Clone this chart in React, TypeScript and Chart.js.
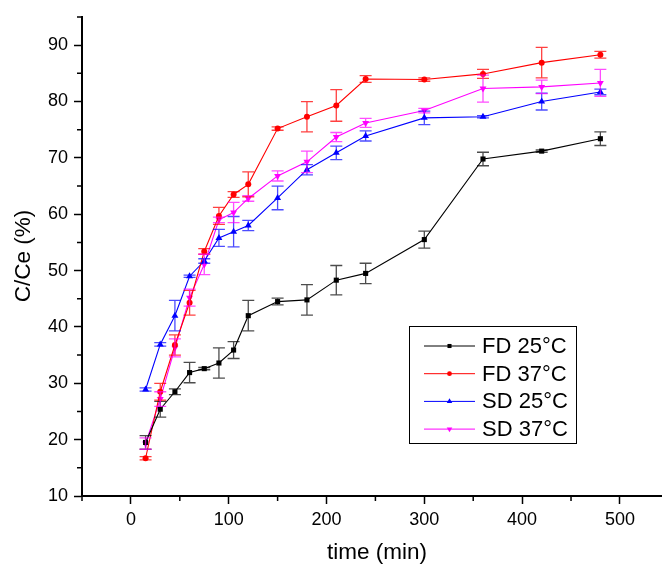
import React, { useEffect, useRef } from 'react';
import { Chart, registerables } from 'chart.js';
Chart.register(...registerables);

const times = [15, 30, 45, 60, 75, 90, 105, 120, 150, 180, 210, 240, 300, 360, 420, 480];
const fd25 = [19.5, 25.4, 28.5, 31.9, 32.6, 33.6, 35.9, 42.0, 44.5, 44.8, 48.3, 49.5, 55.5, 69.8, 71.2, 73.4];
const fd25Err = [1.2, 1.4, 0.5, 1.8, 0.2, 2.7, 1.5, 2.7, 0.6, 2.7, 2.6, 1.8, 1.5, 1.2, 0.2, 1.2];
const fd37 = [16.7, 28.5, 36.8, 44.3, 53.4, 59.7, 63.5, 65.3, 75.2, 77.3, 79.3, 84.0, 83.9, 84.9, 86.9, 88.3];
const fd37Err = [0.3, 1.5, 1.8, 2.2, 0.5, 1.5, 0.5, 2.2, 0.3, 2.7, 2.8, 0.6, 0.3, 0.8, 2.7, 0.6];
const sd25 = [28.9, 36.9, 42.0, 49.0, 51.7, 55.8, 56.9, 58.0, 62.9, 67.9, 70.9, 73.9, 77.1, 77.3, 80.0, 81.7];
const sd25Err = [0.3, 0.3, 2.7, 0.2, 0.4, 1.5, 2.7, 0.9, 2.1, 0.9, 1.2, 0.9, 1.2, 0.2, 1.5, 0.5];
const sd37 = [19.3, 27.2, 36.3, 45.2, 51.1, 59.0, 60.3, 62.8, 66.8, 69.3, 73.7, 76.2, 78.4, 82.3, 82.6, 83.3];
const sd37Err = [1.0, 1.3, 1.6, 1.5, 1.8, 0.5, 1.8, 0.5, 0.9, 1.9, 0.8, 0.8, 0.4, 2.4, 1.2, 2.4];

const seriesLabels = ['FD 25°C', 'FD 37°C', 'SD 25°C', 'SD 37°C'];
const xMajorTicks = [0, 100, 200, 300, 400, 500];
const xMinorTicks = [-50, 50, 150, 250, 350, 450];
const yMajorTicks = [10, 20, 30, 40, 50, 60, 70, 80, 90];
const yMinorTicks = [15, 25, 35, 45, 55, 65, 75, 85, 95];
const xTitle = 'time (min)';
const yTitle = 'C/Ce (%)';

const FONT = '"Liberation Sans", Arial, sans-serif';

const errorBars = {
  id: 'errorBars',
  afterDatasetsDraw(chart: any) {
    const ctx = chart.ctx;
    const xs = chart.scales.x;
    const ys = chart.scales.y;
    chart.data.datasets.forEach((ds: any) => {
      ctx.save();
      ctx.strokeStyle = ds.errorColor;
      ctx.lineWidth = 1.3;
      ds.data.forEach((pt: any, j: number) => {
        const e = ds.errors[j];
        if (!e) return;
        const x = xs.getPixelForValue(pt.x);
        const yt = ys.getPixelForValue(pt.y + e);
        const yb = ys.getPixelForValue(pt.y - e);
        const hw = 6;
        ctx.beginPath();
        ctx.moveTo(x, yt);
        ctx.lineTo(x, yb);
        ctx.moveTo(x - hw, yt);
        ctx.lineTo(x + hw, yt);
        ctx.moveTo(x - hw, yb);
        ctx.lineTo(x + hw, yb);
        ctx.stroke();
      });
      ctx.restore();
    });
  },
};

function drawMarker(ctx: CanvasRenderingContext2D, style: string, rot: number, x: number, y: number, r: number, color: string) {
  ctx.save();
  ctx.fillStyle = color;
  ctx.beginPath();
  if (style === 'rect') {
    const s = Math.SQRT1_2 * r;
    ctx.rect(x - s, y - s, 2 * s, 2 * s);
  } else if (style === 'circle') {
    ctx.arc(x, y, r, 0, Math.PI * 2);
  } else {
    const dir = rot === 180 ? -1 : 1;
    ctx.moveTo(x, y - dir * r);
    ctx.lineTo(x - r * 0.866, y + dir * r * 0.5);
    ctx.lineTo(x + r * 0.866, y + dir * r * 0.5);
    ctx.closePath();
  }
  ctx.fill();
  ctx.restore();
}

const decorations = {
  id: 'decorations',
  afterDraw(chart: any) {
    const ctx = chart.ctx;
    const xs = chart.scales.x;
    const ys = chart.scales.y;
    const area = chart.chartArea;
    ctx.save();
    // minor ticks
    ctx.strokeStyle = '#000';
    ctx.lineWidth = 1.5;
    ctx.beginPath();
    xMinorTicks.forEach((v) => {
      const x = xs.getPixelForValue(v);
      ctx.moveTo(x, area.bottom);
      ctx.lineTo(x, area.bottom + 5);
    });
    yMinorTicks.forEach((v) => {
      const y = ys.getPixelForValue(v);
      ctx.moveTo(area.left, y);
      ctx.lineTo(area.left - 5, y);
    });
    ctx.stroke();

    // axis titles
    ctx.fillStyle = '#000';
    ctx.font = `22.5px ${FONT}`;
    ctx.textAlign = 'center';
    ctx.textBaseline = 'middle';
    ctx.fillText(xTitle, 377, 553);
    ctx.save();
    ctx.translate(24, 256);
    ctx.rotate(-Math.PI / 2);
    ctx.fillText(yTitle, 0, 0);
    ctx.restore();

    // legend
    const bx = 409, by = 326, bw = 167, bh = 117;
    ctx.strokeStyle = '#000';
    ctx.lineWidth = 1;
    ctx.strokeRect(bx + 0.5, by + 0.5, bw, bh);
    ctx.font = `22px ${FONT}`;
    ctx.textAlign = 'left';
    ctx.textBaseline = 'middle';
    chart.data.datasets.forEach((ds: any, i: number) => {
      const y = 346 + i * 27.7;
      ctx.strokeStyle = ds.borderColor;
      ctx.lineWidth = 1;
      ctx.beginPath();
      ctx.moveTo(424, y);
      ctx.lineTo(475, y);
      ctx.stroke();
      drawMarker(ctx, ds.pointStyle, ds.pointRotation || 0, 449.5, y, ds.pointRadius * 0.8, ds.borderColor);
      ctx.fillStyle = '#000';
      ctx.fillText(ds.label, 482, y + 1);
    });
    ctx.restore();
  },
};

function pts(ys: number[]) {
  return times.map((t, i) => ({ x: t, y: ys[i] }));
}

export default function App() {
  const ref = useRef<HTMLCanvasElement>(null);
  useEffect(() => {
    if (!ref.current) return;
    const mk = (label: string, data: number[], errs: number[], color: string, errColor: string, style: string, radius: number, rot = 0) => ({
      label,
      data: pts(data),
      errors: errs,
      errorColor: errColor,
      borderColor: color,
      backgroundColor: color,
      pointBackgroundColor: color,
      pointBorderColor: color,
      pointBorderWidth: 0,
      pointStyle: style,
      pointRadius: radius,
      pointRotation: rot,
      borderWidth: 1.1,
      tension: 0,
    });
    const chart = new Chart(ref.current, {
      type: 'line',
      data: {
        datasets: [
          mk(seriesLabels[0], fd25, fd25Err, '#000000', 'rgba(0,0,0,0.7)', 'rect', 3.6),
          mk(seriesLabels[1], fd37, fd37Err, '#ff0000', 'rgba(255,0,0,0.75)', 'circle', 3),
          mk(seriesLabels[2], sd25, sd25Err, '#0000ff', 'rgba(0,0,255,0.7)', 'triangle', 4),
          mk(seriesLabels[3], sd37, sd37Err, '#ff00ff', 'rgba(255,0,255,0.7)', 'triangle', 4, 180),
        ] as any,
      },
      options: {
        animation: false,
        responsive: false,
        devicePixelRatio: 1,
        layout: { padding: { top: 17, left: 0, right: 0, bottom: 0 } },
        plugins: { legend: { display: false }, tooltip: { enabled: false } },
        scales: {
          x: {
            type: 'linear',
            min: -50,
            max: 542,
            afterBuildTicks: (s: any) => { s.ticks = xMajorTicks.map((v) => ({ value: v })); },
            afterFit: (s: any) => { s.height = 69; },
            grid: { drawOnChartArea: false, drawTicks: true, tickLength: 8, color: '#000', tickWidth: 1.5 },
            border: { display: true, color: '#000', width: 2 },
            ticks: { color: '#000', font: { family: FONT, size: 18 }, padding: 5, maxRotation: 0 },
          },
          y: {
            type: 'linear',
            min: 10,
            max: 95,
            afterBuildTicks: (s: any) => { s.ticks = yMajorTicks.map((v) => ({ value: v })); },
            afterFit: (s: any) => { s.width = 82; },
            grid: { drawOnChartArea: false, drawTicks: true, tickLength: 8, color: '#000', tickWidth: 1.5 },
            border: { display: true, color: '#000', width: 2 },
            ticks: { color: '#000', font: { family: FONT, size: 18 }, padding: 6 },
          },
        },
      },
      plugins: [errorBars, decorations],
    } as any);
    return () => chart.destroy();
  }, []);
  return (
    <div style={{ position: 'fixed', left: 0, top: 0, width: 665, height: 565, background: '#fff' }}>
      <canvas ref={ref} width={665} height={565} style={{ width: 665, height: 565, display: 'block' }} />
    </div>
  );
}
